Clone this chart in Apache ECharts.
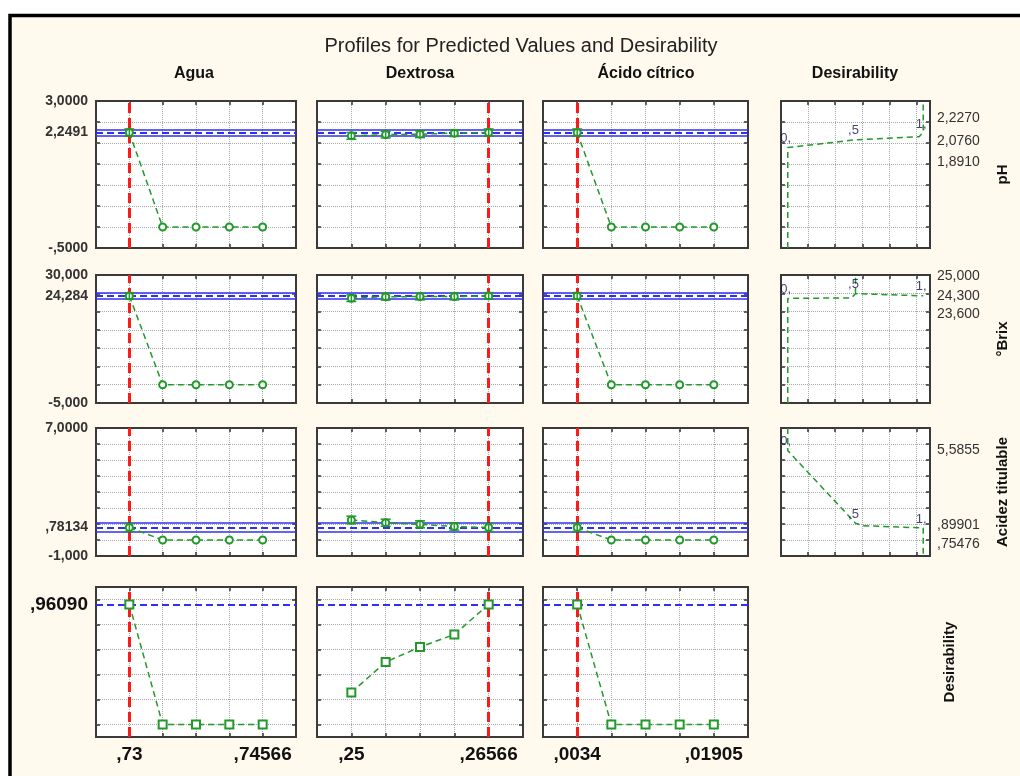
<!DOCTYPE html>
<html>
<head>
<meta charset="utf-8">
<script src="https://cdn.jsdelivr.net/npm/echarts@6/dist/echarts.min.js"></script>
<style>
html, body { margin: 0; padding: 0; background: #fff; }
#chart { width: 1020px; height: 776px; }
</style>
</head>
<body>
<div id="chart"></div>
<script>
// factor levels (x) for each column
const aguaX = [0.73, 0.733915, 0.73783, 0.741745, 0.74566];
const dextrosaX = [0.25, 0.253915, 0.25783, 0.261745, 0.26566];
const acidoX = [0.0034, 0.0073125, 0.011225, 0.0151375, 0.01905];
const currentX = [0.73, 0.26566, 0.0034];
const aguaEndLabels = [',73', ',74566'];
const dextrosaEndLabels = [',25', ',26566'];
const acidoEndLabels = [',0034', ',01905'];

// pH
const phAgua = [2.2491, 0, 0, 0, 0];
const phDextrosa = [2.17, 2.20, 2.21, 2.235, 2.2491];
const phAcido = [2.2491, 0, 0, 0, 0];
const phErrAgua = [0.085, 0, 0, 0, 0];
const phErrDextrosa = [0.08, 0.08, 0.08, 0.08, 0.085];
const phErrAcido = [0.085, 0, 0, 0, 0];
const phPred = 2.2491;
const phCI = [2.18, 2.32];

// °Brix
const brixAgua = [24.284, 0, 0, 0, 0];
const brixDextrosa = [23.65, 24.05, 24.1, 24.1, 24.284];
const brixAcido = [24.284, 0, 0, 0, 0];
const brixErrAgua = [0.9, 0, 0, 0, 0];
const brixErrDextrosa = [0.9, 0.9, 0.9, 0.9, 0.9];
const brixErrAcido = [0.9, 0, 0, 0, 0];
const brixPred = 24.284;
const brixCI = [23.51, 25.05];

// Acidez titulable
const acidezAgua = [0.78134, 0, 0, 0, 0];
const acidezDextrosa = [1.25, 1.08, 0.98, 0.84, 0.78134];
const acidezAcido = [0.78134, 0, 0, 0, 0];
const acidezErrAgua = [0.25, 0, 0, 0, 0];
const acidezErrDextrosa = [0.24, 0.22, 0.22, 0.22, 0.25];
const acidezErrAcido = [0.25, 0, 0, 0, 0];
const acidezPred = 0.78134;
const acidezCI = [0.49, 1.07];

// overall desirability
const desAgua = [0.9609, 0, 0, 0, 0];
const desDextrosa = [0.256, 0.50, 0.62, 0.72, 0.9609];
const desAcido = [0.9609, 0, 0, 0, 0];
const desPred = 0.9609;

// axis ranges and ticks per row
const rowMin = [-0.5, -5, -1, -0.1];
const rowMax = [3, 30, 7, 1.1];
const phTicks = [0, 0.5, 1, 1.5, 2, 2.5];
const brixTicks = [0, 5, 10, 15, 20, 25];
const acidezTicks = [0, 1, 2, 3, 4, 5, 6];
const desTicks = [0, 0.2, 0.4, 0.6, 0.8, 1.0];

// left labels (value, text)
const phLeftVals = [3, 2.2491, -0.5];
const phLeftText = ['3,0000', '2,2491', '-,5000'];
const brixLeftVals = [30, 24.284, -5];
const brixLeftText = ['30,000', '24,284', '-5,000'];
const acidezLeftVals = [7, 0.78134, -1];
const acidezLeftText = ['7,0000', ',78134', '-1,000'];
const desLeftVals = [0.9609];
const desLeftText = [',96090'];

// desirability functions: [desirability, response]
const phDesCurve = [[0, -0.5], [0, 1.891], [0.5, 2.076], [0.97, 2.15], [1, 2.26], [1, 3]];
const brixDesCurve = [[0, -5], [0, 23.6], [0.47, 23.75], [0.5, 24.9], [1, 24.3]];
const brixDesCurve2 = [[0.5, 24.9], [0.5, 30]];
const acidezDesCurve = [[0, 7], [0, 5.5855], [0.5, 1.05], [0.55, 0.899], [1, 0.75476], [1, -1]];
const desMarks = ['0,', ',5', '1,'];
const phMarkPts = [[0, 1.891], [0.5, 2.076], [1, 2.227]];
const brixMarkPts = [[0, 23.6], [0.5, 24.9], [1, 24.3]];
const acidezMarkPts = [[0, 5.5855], [0.5, 1.05], [1, 0.75476]];
const desXTicks = [0.15, 0.35, 0.55, 0.75, 0.95];
// right labels of desirability panels (label slot value, text)
const phRightVals = [2.59, 2.05, 1.55];
const phRightText = ['2,2270', '2,0760', '1,8910'];
const brixRightVals = [29.7, 24.3, 19.3];
const brixRightText = ['25,000', '24,300', '23,600'];
const acidezRightVals = [5.5855, 0.899, -0.25];
const acidezRightText = ['5,5855', ',89901', ',75476'];

const factorNames = ['Agua', 'Dextrosa', 'Ácido cítrico', 'Desirability'];
const responseNames = ['pH', '°Brix', 'Acidez titulable', 'Desirability'];

const FONT = 'Arial, "Liberation Sans", sans-serif';
const green = '#22992a';
const blue = '#3030f0';
const red = '#ff1a1a';
const dotted = { type: 'dotted', color: '#a8a8a8', width: 1 };

const colLeft = [96, 317, 543, 781];
const colWidth = [200, 206, 205, 149];
const rowTop = [101, 275, 428, 587];
const rowHeight = [147, 128, 128, 150];

const factorX = [aguaX, dextrosaX, acidoX];
const endLabels = [aguaEndLabels, dextrosaEndLabels, acidoEndLabels];
const rowVals = [
  [phAgua, phDextrosa, phAcido],
  [brixAgua, brixDextrosa, brixAcido],
  [acidezAgua, acidezDextrosa, acidezAcido],
  [desAgua, desDextrosa, desAcido]
];
const rowErr = [
  [phErrAgua, phErrDextrosa, phErrAcido],
  [brixErrAgua, brixErrDextrosa, brixErrAcido],
  [acidezErrAgua, acidezErrDextrosa, acidezErrAcido]
];
const rowPred = [phPred, brixPred, acidezPred, desPred];
const rowCI = [phCI, brixCI, acidezCI];
const rowTicks = [phTicks, brixTicks, acidezTicks, desTicks];
const leftVals = [phLeftVals, brixLeftVals, acidezLeftVals, desLeftVals];
const leftText = [phLeftText, brixLeftText, acidezLeftText, desLeftText];
const desCurves = [[phDesCurve], [brixDesCurve, brixDesCurve2], [acidezDesCurve]];
const markPts = [phMarkPts, brixMarkPts, acidezMarkPts];
const rightVals = [phRightVals, brixRightVals, acidezRightVals];
const rightText = [phRightText, brixRightText, acidezRightText];

function lookup(vals, texts) {
  return function (v) {
    const i = vals.findIndex(t => Math.abs(t - v) < 1e-9);
    return i >= 0 ? texts[i] : '';
  };
}

const grids = [], xAxes = [], yAxes = [], series = [];

function tick(vals) {
  return { show: true, inside: true, length: 4, customValues: vals, lineStyle: { color: '#333', width: 1.5 } };
}

function addPanel(r, c, xMin, xMax, xTicks) {
  const g = grids.length;
  grids.push({
    left: colLeft[c], top: rowTop[r], width: colWidth[c], height: rowHeight[r],
    show: true, backgroundColor: '#fff', borderColor: '#3a3a3a', borderWidth: 2,
    containLabel: false, outerBoundsMode: 'none'
  });
  const noLine = { show: false, onZero: false };
  const xBase = { gridIndex: g, type: 'value', min: xMin, max: xMax, axisLine: noLine, axisTick: tick(xTicks), splitLine: { show: false }, axisLabel: { show: false } };
  const bottom = Object.assign({}, xBase, { position: 'bottom', splitLine: { show: true, lineStyle: dotted } });
  if (r === 3) {
    const xs = factorX[c];
    bottom.axisLabel = {
      show: true, customValues: [xs[0], xs[4]], formatter: lookup([xs[0], xs[4]], endLabels[c]),
      fontFamily: FONT, fontSize: 19, fontWeight: 'bold', color: '#111', margin: 8
    };
  }
  xAxes.push(bottom, Object.assign({}, xBase, { position: 'top' }));
  const yBase = { gridIndex: g, type: 'value', min: rowMin[r], max: rowMax[r], axisLine: noLine, axisTick: tick(rowTicks[r]), splitLine: { show: false }, axisLabel: { show: false } };
  const left = Object.assign({}, yBase, { position: 'left', splitLine: { show: true, lineStyle: dotted } });
  const right = Object.assign({}, yBase, { position: 'right' });
  if (c === 0) {
    left.axisLabel = {
      show: true, customValues: leftVals[r], formatter: lookup(leftVals[r], leftText[r]),
      fontFamily: FONT, fontSize: r === 3 ? 19 : 14, fontWeight: 'bold', color: r === 3 ? '#111' : '#333', margin: 8
    };
  }
  if (c === 3) {
    right.axisLabel = {
      show: true, customValues: rightVals[r], formatter: lookup(rightVals[r], rightText[r]),
      fontFamily: FONT, fontSize: 14, color: '#333', margin: 7
    };
  }
  yAxes.push(left, right);
  return 2 * g;
}

// factor profile panels
for (let r = 0; r < 4; r++) {
  for (let c = 0; c < 3; c++) {
    const xs = factorX[c];
    const step = (xs[4] - xs[0]) / 4;
    const ai = addPanel(r, c, xs[0] - step, xs[4] + step, xs);
    const refs = [{ xAxis: currentX[c], lineStyle: { color: red, width: 3, type: [10, 5] } },
                  { yAxis: rowPred[r], lineStyle: { color: blue, width: 2, type: [7, 4] } }];
    if (r < 3) {
      refs.push({ yAxis: rowCI[r][0], lineStyle: { color: blue, width: 1.5, type: 'solid' } });
      refs.push({ yAxis: rowCI[r][1], lineStyle: { color: blue, width: 1.5, type: 'solid' } });
    }
    series.push({
      type: 'scatter', xAxisIndex: ai, yAxisIndex: ai, data: [], z: 1,
      markLine: { silent: true, precision: 10, symbol: ['none', 'none'], label: { show: false }, animation: false, data: refs }
    });
    if (r < 3) {
      const errs = rowErr[r][c];
      const bars = [];
      rowVals[r][c].forEach((v, i) => { if (errs[i] > 0) bars.push([xs[i], v - errs[i], v + errs[i]]); });
      series.push({
        type: 'custom', xAxisIndex: ai, yAxisIndex: ai, z: 6, data: bars,
        renderItem: function (params, api) {
          const lo = api.coord([api.value(0), api.value(1)]);
          const hi = api.coord([api.value(0), api.value(2)]);
          const w = 5;
          const st = { stroke: green, lineWidth: 1.5, fill: 'none' };
          return { type: 'group', children: [
            { type: 'line', shape: { x1: lo[0], y1: lo[1], x2: hi[0], y2: hi[1] }, style: st },
            { type: 'line', shape: { x1: lo[0] - w, y1: lo[1], x2: lo[0] + w, y2: lo[1] }, style: st },
            { type: 'line', shape: { x1: hi[0] - w, y1: hi[1], x2: hi[0] + w, y2: hi[1] }, style: st }
          ] };
        }
      });
    }
    series.push({
      type: 'line', xAxisIndex: ai, yAxisIndex: ai, z: 5,
      data: xs.map((x, i) => [x, rowVals[r][c][i]]),
      symbol: r === 3 ? 'emptyRect' : 'emptyCircle', symbolSize: r === 3 ? 8 : 7,
      itemStyle: { color: green, borderWidth: 1.5 },
      lineStyle: { color: green, width: 1.5, type: [6, 4] }
    });
  }
}

// desirability function panels
for (let r = 0; r < 3; r++) {
  const ai = addPanel(r, 3, -0.05, 1.05, desXTicks);
  desCurves[r].forEach(curve => {
    series.push({
      type: 'line', xAxisIndex: ai, yAxisIndex: ai, z: 3, data: curve, showSymbol: false, symbol: 'none',
      lineStyle: { color: green, width: 1.5, type: [6, 4] }
    });
  });
  series.push({
    type: 'scatter', xAxisIndex: ai, yAxisIndex: ai, z: 6, data: markPts[r], symbolSize: 1,
    itemStyle: { color: 'rgba(0,0,0,0)' },
    label: { show: true, position: 'inside', offset: [-2, -9], fontFamily: FONT, fontSize: 13, color: '#14144a',
             formatter: p => desMarks[p.dataIndex] }
  });
}

const graphic = [
  { type: 'rect', z: -100, shape: { x: 10, y: 15.5, width: 1040, height: 800 }, style: { fill: '#fff9ee', stroke: '#000', lineWidth: 3.5 } },
  { type: 'text', x: 521, y: 46, style: { text: 'Profiles for Predicted Values and Desirability', font: '20px ' + FONT, fill: '#222', align: 'center', verticalAlign: 'middle' } }
];
const headerX = [194, 420, 646, 855];
factorNames.forEach((h, i) => graphic.push({ type: 'text', x: headerX[i], y: 74, style: { text: h, font: 'bold 16px ' + FONT, fill: '#111', align: 'center', verticalAlign: 'middle' } }));
const responseX = [1003, 1003, 1003, 950];
responseNames.forEach((n, r) => graphic.push({
  type: 'text', x: responseX[r], y: rowTop[r] + rowHeight[r] / 2, rotation: Math.PI / 2,
  style: { text: n, font: 'bold 15px ' + FONT, fill: '#111', align: 'center', verticalAlign: 'middle' }
}));

const chart = echarts.init(document.getElementById('chart'));
chart.setOption({
  backgroundColor: '#fff',
  animation: false,
  grid: grids,
  xAxis: xAxes,
  yAxis: yAxes,
  series: series,
  graphic: graphic
});
</script>
</body>
</html>
